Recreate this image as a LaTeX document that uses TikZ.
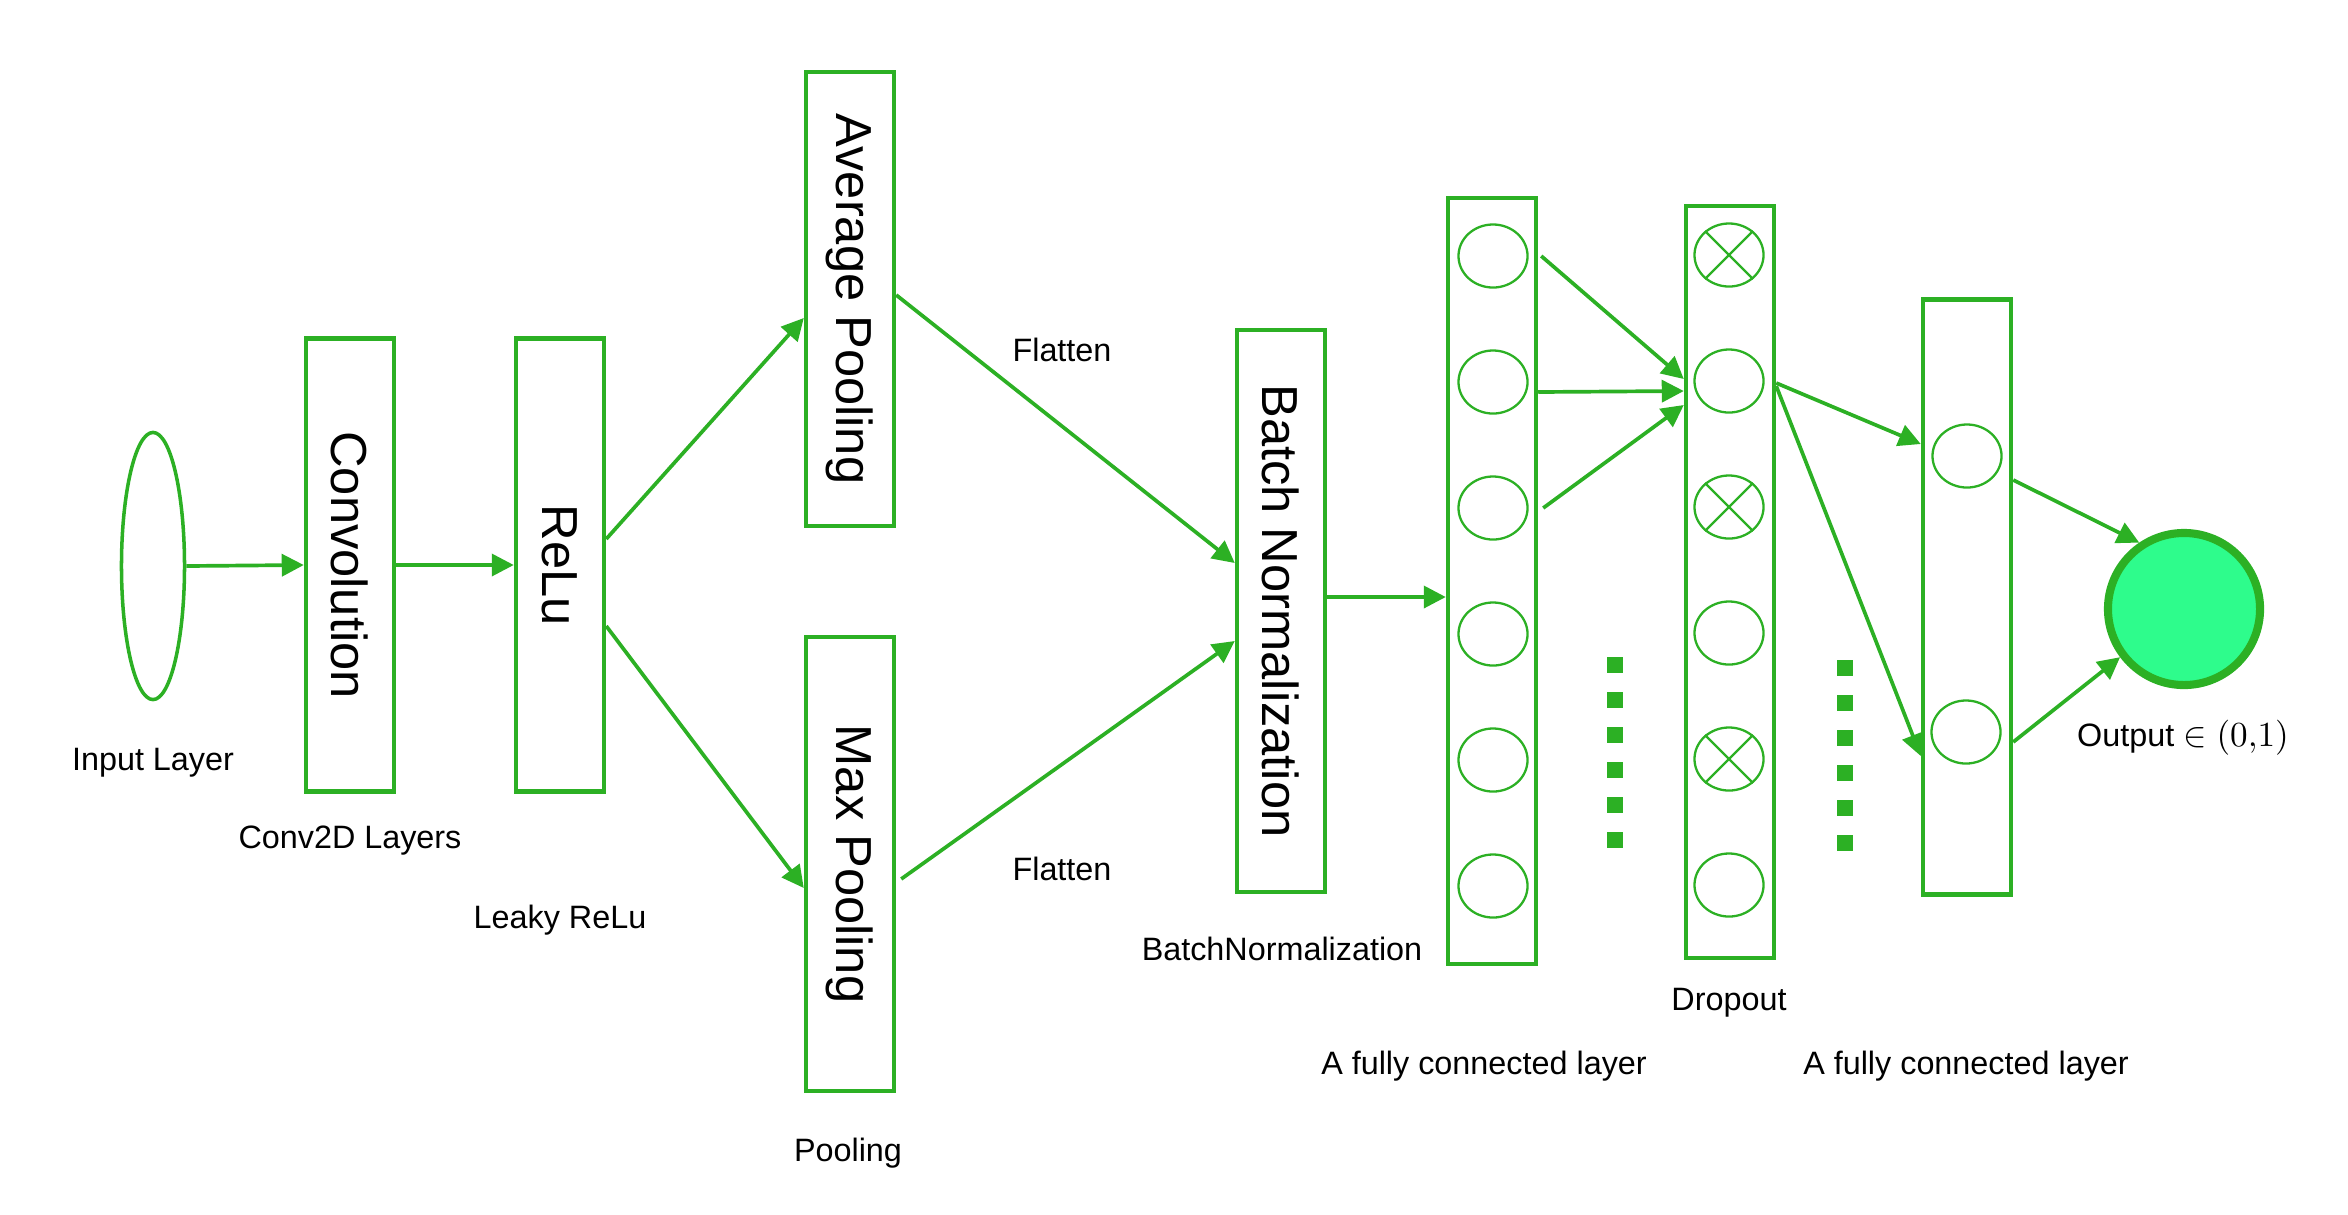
\documentclass[tikz,border=0pt]{standalone}
\usepackage{fontspec}
\usepackage{graphicx}
\setmainfont{Liberation Sans}
\usetikzlibrary{arrows.meta,calc,shapes.geometric}
\definecolor{netgreen}{RGB}{44,176,36}
\definecolor{outgreen}{RGB}{46,252,140}

\begin{document}
\begin{tikzpicture}[x=0.01cm,y=-0.01cm,
            every node/.style={font=\fontsize{9.2}{11}\selectfont},
            layer/.style={rectangle,draw=netgreen,line width=1.25pt,minimum width=0.88cm,inner sep=0pt,font=\fontsize{14.4}{17}\selectfont},
            unit/.style={ellipse,draw=netgreen,line width=0.65pt,minimum width=0.69cm,minimum height=0.63cm,inner sep=0pt},
            arr/.style={draw=netgreen,line width=1.05pt,-{Triangle[length=0.22cm,width=0.22cm]}},
            sq/.style={rectangle,fill=netgreen,minimum size=0.16cm,inner sep=0pt}]
  \useasboundingbox (0,0) rectangle (2348,1214);
  \node[ellipse,draw=netgreen,line width=1pt,minimum width=0.63cm,minimum height=2.67cm] (input) at (153,566) {};
  \node[layer,minimum height=4.53cm] (conv) at (350,565) {\rotatebox{-90}{Convolution}};
  \node[layer,minimum height=4.53cm] (relu) at (560,565) {\rotatebox{-90}{ReLu}};
  \node[layer,minimum height=4.54cm] (avgpool) at (850,299) {\rotatebox{-90}{Average Pooling}};
  \node[layer,minimum height=4.54cm] (maxpool) at (850,864) {\rotatebox{-90}{Max Pooling}};
  \node[layer,minimum height=5.62cm] (batchnorm) at (1281,611) {\rotatebox{-90}{Batch Normalization}};
  \node[layer,minimum height=7.66cm] (fca) at (1492,581) {};
  \node[layer,minimum height=7.52cm] (dropout) at (1730,582) {};
  \node[layer,minimum height=5.95cm] (fcb) at (1967,597) {};
  \foreach \i in {1,...,6} {
    \node[unit] (fca\i) at (1493,{256+126*(\i-1)}) {};
    \node[unit] (drop\i) at (1729,{255+126*(\i-1)}) {};
  }
  \foreach \i in {1,3,5}
    \draw[netgreen,line width=0.65pt] (drop\i.45) -- (drop\i.225) (drop\i.135) -- (drop\i.-45);
  \node[unit] (fcb1) at (1967,456) {};
  \node[unit] (fcb2) at (1966,732) {};
  \node[circle,draw=netgreen,line width=2.3pt,fill=outgreen,minimum size=1.52cm] (output) at (2184,609) {};
  \foreach \k in {0,...,5} {
    \node[sq] (dotsa\k) at (1615,{665+35*\k}) {};
    \node[sq] (dotsb\k) at (1845,{668+35*\k}) {};
  }
  \node (inputlbl) at (153,763) {Input Layer};
  \node (convlbl) at (350,841) {Conv2D Layers};
  \node (relulbl) at (560,920) {Leaky ReLu};
  \node (poollbl) at (848,1153) {Pooling};
  \node (flata) at (1062,350) {Flatten};
  \node (flatb) at (1062,869) {Flatten};
  \node (bnlbl) at (1282,949) {BatchNormalization};
  \node (fcalbl) at (1484,1066) {A fully connected layer};
  \node (droplbl) at (1729,1003) {Dropout};
  \node (fcblbl) at (1966,1066) {A fully connected layer};
  \node (outlbl) at (2183,738) {Output {\fontsize{10}{12}\selectfont$\in (0{,}1)$}};
  \draw[arr] (input.east) -- (conv.west);
  \draw[arr] (conv.east) -- (relu.west);
  \draw[arr] ($(relu.east)+(0,-26)$) -- ($(avgpool.west)+(0,19)$);
  \draw[arr] ($(relu.east)+(0,61)$) -- ($(maxpool.west)+(0,24)$);
  \draw[arr] ($(avgpool.east)+(0,-4)$) -- ($(batchnorm.west)+(0,-48)$);
  \draw[arr] ($(maxpool.east)+(5,15)$) -- ($(batchnorm.west)+(0,30)$);
  \draw[arr] ($(batchnorm.east)+(0,-14)$) -- ($(fca.west)+(0,16)$);
  \draw[arr] ($(fca.east |- fca1)+(3,0)$) -- ($(dropout.west |- drop2)+(0,-2)$);
  \draw[arr] ($(fca.east |- fca2)+(0,10)$) -- ($(dropout.west |- drop2)+(0,10)$);
  \draw[arr] ($(fca.east |- fca3)+(5,0)$) -- ($(dropout.west |- drop2)+(0,24)$);
  \draw[arr] ($(dropout.east |- drop2)+(0,2)$) -- ($(fcb.west |- fcb1)+(0,-12)$);
  \draw[arr] ($(dropout.east |- drop2)+(0,5)$) -- ($(fcb.west |- fcb2)+(0,24)$);
  \draw[arr] ($(fcb.east |- fcb1)+(0,24)$) -- (output.124);
  \draw[arr] ($(fcb.east |- fcb2)+(0,10)$) -- (output.217);
\end{tikzpicture}
\end{document}
